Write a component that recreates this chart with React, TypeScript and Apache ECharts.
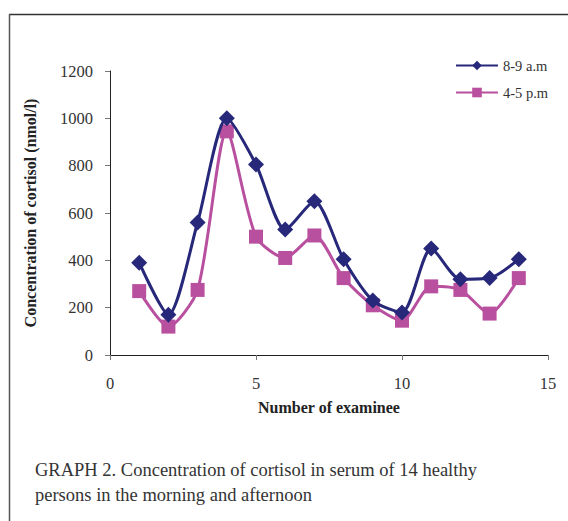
import React, { useEffect, useRef } from "react";
import * as echarts from "echarts";

const examinees = [1, 2, 3, 4, 5, 6, 7, 8, 9, 10, 11, 12, 13, 14];
const morning = [390, 170, 560, 1000, 805, 530, 650, 405, 230, 180, 450, 320, 325, 405];
const afternoon = [270, 120, 275, 945, 500, 410, 505, 325, 210, 145, 290, 275, 175, 325];
const seriesNames = ["8-9 a.m", "4-5 p.m"];
const yTitle = "Concentration of cortisol (nmol/l)";
const xTitle = "Number of examinee";
const captionLines = [
  "GRAPH 2. Concentration of cortisol in serum of 14 healthy",
  "persons in the morning and afternoon",
];

const FONT = "'Liberation Serif', 'DejaVu Serif', serif";

export default function App() {
  const ref = useRef<HTMLDivElement>(null);
  useEffect(() => {
    if (!ref.current) return;
    const chart = echarts.init(ref.current, undefined, { renderer: "svg" });
    const toPairs = (arr: number[]) => arr.map((v, i) => [examinees[i], v]);
    chart.setOption({
      animation: false,
      backgroundColor: "#fff",
      textStyle: { fontFamily: FONT },
      grid: { left: 110, right: 20, top: 71, bottom: 166 },
      legend: {
        orient: "vertical",
        left: 450,
        top: 53,
        itemWidth: 42,
        itemHeight: 12,
        itemGap: 12,
        textStyle: { fontFamily: FONT, fontSize: 14.5, color: "#333" },
        data: seriesNames,
      },
      xAxis: {
        type: "value",
        min: 0,
        max: 15,
        interval: 5,
        name: xTitle,
        nameLocation: "middle",
        nameGap: 44,
        nameTextStyle: { fontFamily: FONT, fontSize: 16, fontWeight: "bold", color: "#222" },
        axisLine: { lineStyle: { color: "#222", width: 1 } },
        axisTick: { show: true, length: 5, lineStyle: { color: "#777" } },
        axisLabel: { fontFamily: FONT, fontSize: 16.5, color: "#333", margin: 20, formatter: (v: number) => String(v) },
        splitLine: { show: false },
      },
      yAxis: {
        type: "value",
        min: 0,
        max: 1200,
        interval: 200,
        name: yTitle,
        nameLocation: "middle",
        nameGap: 72,
        nameTextStyle: { fontFamily: FONT, fontSize: 16, fontWeight: "bold", color: "#222" },
        axisLine: { show: true, lineStyle: { color: "#222", width: 1 } },
        axisTick: { show: true, length: 5, lineStyle: { color: "#777" } },
        axisLabel: { fontFamily: FONT, fontSize: 16.5, color: "#333", margin: 17, formatter: (v: number) => String(v) },
        splitLine: { show: false },
      },
      series: [
        {
          name: seriesNames[0],
          type: "line",
          data: toPairs(morning),
          smooth: 0.25,
          symbol: "diamond",
          symbolSize: 16,
          itemStyle: { color: "#27287A" },
          lineStyle: { color: "#27287A", width: 3 },
          z: 3,
        },
        {
          name: seriesNames[1],
          type: "line",
          data: toPairs(afternoon),
          smooth: 0.25,
          symbol: "rect",
          symbolSize: 14,
          itemStyle: { color: "#B9509F" },
          lineStyle: { color: "#B9509F", width: 3 },
          z: 2,
        },
      ],
      graphic: [
        { type: "line", shape: { x1: 9, y1: 14.5, x2: 568, y2: 14.5 }, style: { stroke: "#333", lineWidth: 1.5 } },
        { type: "line", shape: { x1: 9.5, y1: 14, x2: 9.5, y2: 521 }, style: { stroke: "#555", lineWidth: 1.5 } },
        {
          type: "text",
          left: 35,
          top: 460,
          style: { text: captionLines[0], fontFamily: FONT, fontSize: 18.5, fill: "#333" },
        },
        {
          type: "text",
          left: 35,
          top: 485,
          style: { text: captionLines[1], fontFamily: FONT, fontSize: 18.5, fill: "#333" },
        },
      ],
    });
    return () => chart.dispose();
  }, []);
  return (
    <div
      ref={ref}
      style={{ position: "fixed", left: 0, top: 0, width: 568, height: 521 }}
    />
  );
}
